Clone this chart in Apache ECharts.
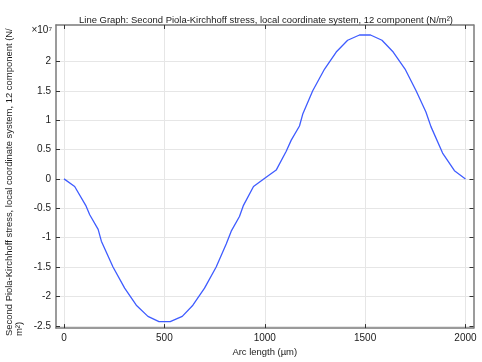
<!DOCTYPE html>
<html>
<head>
<meta charset="utf-8">
<script src="https://cdn.jsdelivr.net/npm/echarts@6/dist/echarts.min.js"></script>
<style>html,body{margin:0;padding:0;background:#fff;}#c{width:482px;height:362px;}</style>
</head>
<body>
<div id="c"></div>
<script>
// Arc length (µm)
var arcLength = [0, 53, 108, 128, 170, 186, 244, 302, 360, 418, 473, 529, 589, 642, 700, 758, 808, 833, 874, 894, 944, 1000, 1005, 1057, 1107, 1132, 1173, 1190, 1239, 1298, 1356, 1413, 1472, 1527, 1584, 1640, 1699, 1754, 1803, 1828, 1886, 1945, 2000];
// Stress S12 in units of 1e7 N/m^2
var stress = [0, -0.13, -0.45, -0.61, -0.86, -1.06, -1.50, -1.86, -2.15, -2.34, -2.43, -2.43, -2.34, -2.15, -1.86, -1.50, -1.11, -0.89, -0.64, -0.45, -0.13, 0.01, -0.02, 0.15, 0.47, 0.66, 0.90, 1.11, 1.50, 1.87, 2.16, 2.36, 2.45, 2.45, 2.36, 2.16, 1.87, 1.50, 1.14, 0.89, 0.44, 0.14, 0.0];
var xTicks = [0, 500, 1000, 1500, 2000];
var yTicks = [-2.5, -2, -1.5, -1, -0.5, 0, 0.5, 1, 1.5, 2];
var titleText = 'Line Graph: Second Piola-Kirchhoff stress, local coordinate system, 12 component (N/m\u00b2)';
var yLabel1 = 'Second Piola-Kirchhoff stress, local coordinate system, 12 component (N/';
var yLabel2 = 'm\u00b2)';
var xLabel = 'Arc length (\u00b5m)';

var FONT = 'Liberation Sans';
var TXT = 9.45;
var data = arcLength.map(function (x, i) { return [x, stress[i]]; });
var frame = {show: true, onZero: false, lineStyle: {color: '#7a7a7a', width: 1.5}};
var tickStyle = {show: true, inside: true, length: 4, lineStyle: {color: '#333', width: 1}};
var chart = echarts.init(document.getElementById('c'), null, {renderer: 'canvas'});
chart.setOption({
  animation: false,
  backgroundColor: '#fff',
  title: {
    text: titleText, left: 261, top: 11, textAlign: 'center',
    textStyle: {fontFamily: FONT, fontSize: TXT, fontWeight: 'normal', color: '#1a1a1a'}
  },
  grid: {left: 56, right: 8.5, top: 25, bottom: 28.5},
  xAxis: [{
    type: 'value', min: -40, max: 2040, position: 'bottom',
    name: xLabel, nameLocation: 'middle', nameGap: 18,
    nameTextStyle: {fontFamily: FONT, fontSize: TXT, color: '#1a1a1a'},
    axisLine: frame,
    axisTick: Object.assign({customValues: xTicks}, tickStyle),
    axisLabel: {customValues: xTicks, fontFamily: FONT, fontSize: 10, color: '#1a1a1a', margin: 5,
      formatter: function (v) { return String(v); }},
    splitLine: {show: true, lineStyle: {color: '#e6e6e6', width: 1}}
  }, {
    type: 'value', min: -40, max: 2040, position: 'top',
    axisLine: frame,
    axisTick: Object.assign({customValues: xTicks}, tickStyle),
    axisLabel: {show: false},
    splitLine: {show: false}
  }],
  yAxis: [{
    type: 'value', min: -2.54, max: 2.62, position: 'left',
    axisLine: frame,
    axisTick: Object.assign({customValues: yTicks}, tickStyle),
    axisLabel: {customValues: yTicks, fontFamily: FONT, fontSize: 10, color: '#1a1a1a', margin: 5,
      formatter: function (v) { return String(Math.round(v * 10) / 10); }},
    splitLine: {show: true, lineStyle: {color: '#e6e6e6', width: 1}}
  }, {
    type: 'value', min: -2.54, max: 2.62, position: 'right',
    axisLine: frame,
    axisTick: Object.assign({customValues: yTicks}, tickStyle),
    axisLabel: {show: false},
    splitLine: {show: false}
  }],
  graphic: [
    {type: 'text', x: 52, y: 30, style: {text: '\u00d710\u2077', fontFamily: FONT, fontSize: 10, fill: '#1a1a1a', textAlign: 'right', textVerticalAlign: 'middle'}},
    {type: 'text', x: 9, y: 336, rotation: Math.PI / 2, style: {text: yLabel1, fontFamily: FONT, fontSize: TXT, fill: '#1a1a1a', textAlign: 'left', textVerticalAlign: 'middle'}},
    {type: 'text', x: 19, y: 336, rotation: Math.PI / 2, style: {text: yLabel2, fontFamily: FONT, fontSize: TXT, fill: '#1a1a1a', textAlign: 'left', textVerticalAlign: 'middle'}}
  ],
  series: [{
    type: 'line', data: data, xAxisIndex: 0, yAxisIndex: 0,
    showSymbol: false, symbol: 'none',
    lineStyle: {color: '#3f5cff', width: 1.3}
  }]
});
</script>
</body>
</html>
